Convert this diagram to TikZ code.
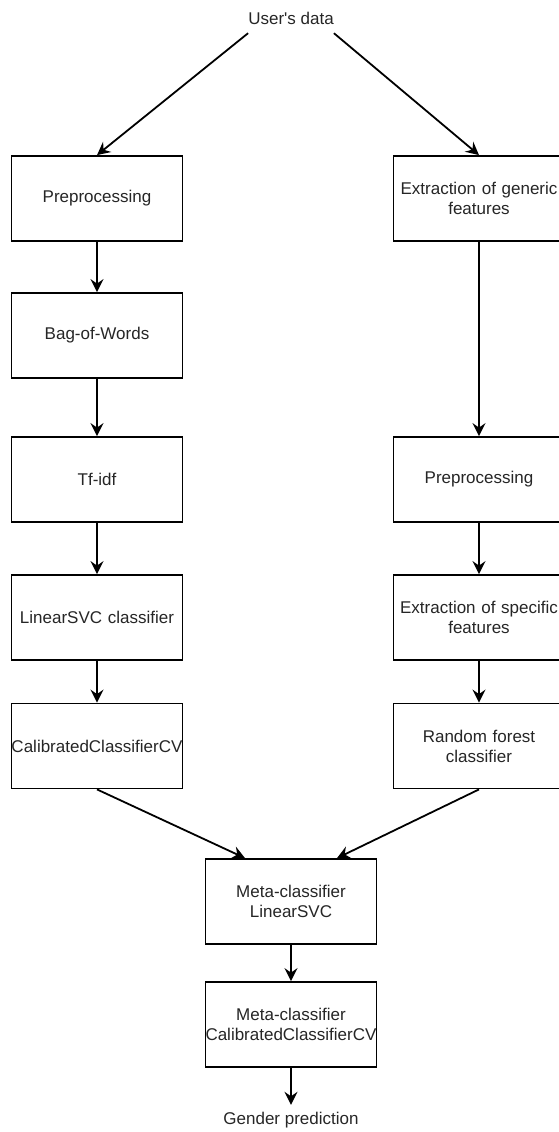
\documentclass[tikz,border=0pt]{standalone}
\usepackage{fontspec}
\setmainfont{Liberation Sans}
\usetikzlibrary{arrows.meta}
\begin{document}
\begin{tikzpicture}[x=1pt,y=-1pt,
  box/.style={draw=black,line width=1.8pt,fill=white,minimum width=171pt,minimum height=85pt,
    inner sep=0pt,text width=171pt,align=center,font=\fontsize{17}{20}\selectfont,text=black!85},
  lbl/.style={inner sep=0pt,minimum width=83pt,minimum height=30pt,align=center,
    font=\fontsize{17}{20}\selectfont,text=black!85},
  arr/.style={line width=1.8pt,-{Stealth[length=13pt,width=13pt,inset=4.5pt]}}]
\useasboundingbox (0,0) rectangle (559,1132);
\node[lbl] (user) at (291,18) {User\textquotesingle s data};
% left column
\node[box] (pre1) at (97,198.5) {Preprocessing};
\node[box] (bow) at (97,335.5) {Bag-of-Words};
\node[box] (tfidf) at (97,479.5) {Tf-idf};
\node[box] (svc) at (97,617.5) {LinearSVC classifier};
\node[box] (cal) at (97,746) {CalibratedClassifierCV};
% right column
\node[box] (gen) at (479,198.5) {Extraction of generic\\features};
\node[box] (pre2) at (479,479.5) {Preprocessing};
\node[box] (spec) at (479,617.5) {Extraction of specific\\features};
\node[box] (rf) at (479,746) {Random forest\\classifier};
% meta
\node[box] (meta1) at (291,901.5) {Meta-classifier\\LinearSVC};
\node[box] (meta2) at (291,1024.5) {Meta-classifier\\CalibratedClassifierCV};
\node[lbl,minimum width=140pt] (gender) at (291,1120) {Gender prediction};
% connectors
\draw[arr] (user.south west) -- (pre1.north);
\draw[arr] (user.south east) -- (gen.north);
\draw[arr] (pre1) -- (bow);
\draw[arr] (bow) -- (tfidf);
\draw[arr] (tfidf) -- (svc);
\draw[arr] (svc) -- (cal);
\draw[arr] (gen) -- (pre2);
\draw[arr] (pre2) -- (spec);
\draw[arr] (spec) -- (rf);
\draw[arr] (cal.south) -- ([xshift=-46pt]meta1.north);
\draw[arr] (rf.south) -- ([xshift=46pt]meta1.north);
\draw[arr] (meta1) -- (meta2);
\draw[arr] (meta2) -- (gender);
\end{tikzpicture}
\end{document}
